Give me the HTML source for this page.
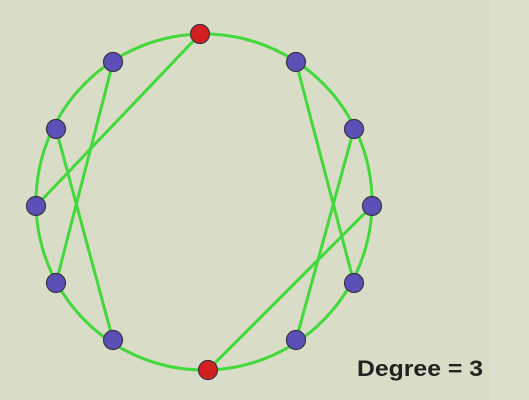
<!DOCTYPE html>
<html><head><meta charset="utf-8"><style>
html,body{margin:0;padding:0;background:#d9dcc7;}
svg{display:block}
</style></head><body>
<svg id="chart" width="529" height="400" viewBox="0 0 529 400" xmlns="http://www.w3.org/2000/svg">
<rect x="0" y="0" width="529" height="400" fill="#d9dcc7"/>
<rect x="490" y="0" width="39" height="400" fill="#dcdfcb"/>
<ellipse cx="204" cy="202" rx="168" ry="168" fill="none" stroke="#42d93a" stroke-width="3"/>
<g id="edges"></g>
<g id="nodes"></g>
<text x="357" y="376" textLength="126" lengthAdjust="spacingAndGlyphs" font-family="Liberation Sans, sans-serif" font-weight="bold" font-size="22" fill="#222">Degree = 3</text>
</svg>
<script>
const nodeX = [200,113,56,36,56,113,208,296,354,372,354,296];
const nodeY = [34,62,129,206,283,340,370,340,283,206,129,62];
const nodeColor = ['red','blue','blue','blue','blue','blue','red','blue','blue','blue','blue','blue'];
const edgeFrom = [0,1,2,11,10,9];
const edgeTo = [3,4,5,8,7,6];
const NS='http://www.w3.org/2000/svg';
const eg=document.getElementById('edges'), ng=document.getElementById('nodes');
for(let i=0;i<edgeFrom.length;i++){
  const l=document.createElementNS(NS,'line');
  l.setAttribute('x1',nodeX[edgeFrom[i]]);l.setAttribute('y1',nodeY[edgeFrom[i]]);
  l.setAttribute('x2',nodeX[edgeTo[i]]);l.setAttribute('y2',nodeY[edgeTo[i]]);
  l.setAttribute('stroke','#42d93a');l.setAttribute('stroke-width','3');
  
  
  eg.appendChild(l);
}
for(let i=0;i<nodeX.length;i++){
  const c=document.createElementNS(NS,'circle');
  c.setAttribute('cx',nodeX[i]);c.setAttribute('cy',nodeY[i]);c.setAttribute('r','9.5');
  c.setAttribute('fill',nodeColor[i]==='red'?'#d42020':'#5b4fb8');
  c.setAttribute('stroke','#3a3540');c.setAttribute('stroke-width','1.2');
  
  
  ng.appendChild(c);
}
</script>
</body></html>
